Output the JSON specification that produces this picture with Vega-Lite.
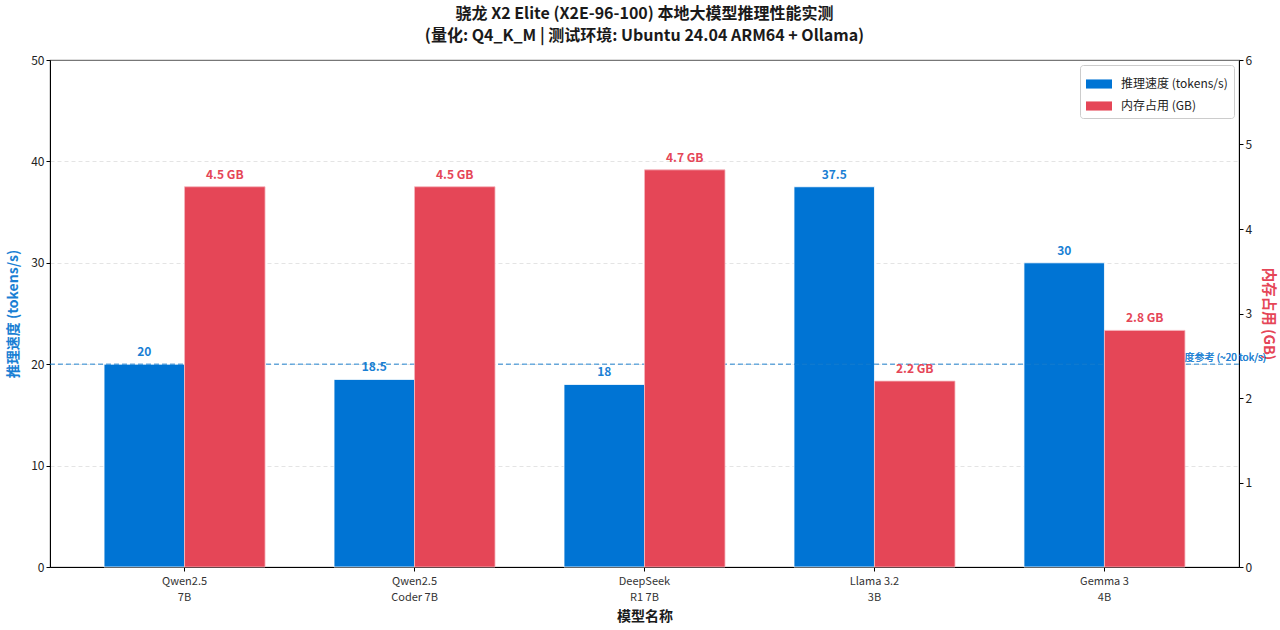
{
  "$schema": "https://vega.github.io/schema/vega-lite/v6.json",
  "width": 1189,
  "height": 507,
  "autosize": {"type": "none"},
  "padding": {"left": 50, "top": 60, "right": 41, "bottom": 63},
  "title": {
    "text": ["骁龙 X2 Elite (X2E-96-100) 本地大模型推理性能实测", "(量化: Q4_K_M | 测试环境: Ubuntu 24.04 ARM64 + Ollama)"],
    "fontSize": 16,
    "fontWeight": "bold",
    "color": "#1a1a1a",
    "lineHeight": 22,
    "anchor": "middle",
    "offset": 10
  },
  "config": {
    "font": "Noto Sans CJK SC",
    "view": {"stroke": "#777", "strokeWidth": 1.2},
    "axis": {"domainColor": "#000", "tickColor": "#000", "tickSize": 4, "labelFont": "Noto Sans CJK SC", "titleFont": "Noto Sans CJK SC"},
    "legend": {"labelFont": "Noto Sans CJK SC"}
  },
  "data": {
    "values": [
      {"model": "Qwen2.5\n7B", "speed": 20, "memory": 4.5},
      {"model": "Qwen2.5\nCoder 7B", "speed": 18.5, "memory": 4.5},
      {"model": "DeepSeek\nR1 7B", "speed": 18, "memory": 4.7},
      {"model": "Llama 3.2\n3B", "speed": 37.5, "memory": 2.2},
      {"model": "Gemma 3\n4B", "speed": 30, "memory": 2.8}
    ]
  },
  "encoding": {
    "x": {
      "field": "model",
      "type": "nominal",
      "sort": null,
      "scale": {"paddingInner": 0.3, "paddingOuter": 0.235},
      "axis": {
        "labelExpr": "split(datum.label, '\\n')",
        "labelAngle": 0,
        "labelFontSize": 11,
        "labelColor": "#333",
        "labelLineHeight": 16,
        "labelPadding": 4,
        "title": "模型名称",
        "titleFontSize": 14,
        "titleFontWeight": "bold",
        "titleColor": "#1a1a1a",
        "titlePadding": 7
      }
    }
  },
  "layer": [
    {
      "encoding": {
        "y": {
          "field": "speed",
          "type": "quantitative",
          "scale": {"domain": [0, 50], "nice": false},
          "axis": {
            "orient": "left",
            "values": [0, 10, 20, 30, 40, 50],
            "labelFontSize": 12,
            "labelColor": "#222",
            "grid": true,
            "gridColor": {"condition": {"test": "datum.value === 0 || datum.value === 50", "value": "transparent"}, "value": "#dddddd"},
            "gridDash": [4, 3],
            "gridWidth": 0.8,
            "title": "推理速度 (tokens/s)",
            "titleColor": "#1a7fd4",
            "titleFontSize": 14,
            "titleFontWeight": "bold",
            "titlePadding": 10
          }
        }
      },
      "layer": [
        {
          "mark": {"type": "bar", "stroke": "white", "strokeWidth": 0.8},
          "encoding": {
            "xOffset": {"datum": "推理速度 (tokens/s)", "scale": {"domain": ["推理速度 (tokens/s)", "内存占用 (GB)"], "paddingInner": 0, "paddingOuter": 0}},
            "color": {
              "datum": "推理速度 (tokens/s)",
              "scale": {"domain": ["推理速度 (tokens/s)", "内存占用 (GB)"], "range": ["#0074d4", "#e54657"]},
              "legend": {
                "title": null,
                "orient": "top-right",
                "offset": 5,
                "fillColor": "rgba(255,255,255,0.85)",
                "strokeColor": "#cccccc",
                "cornerRadius": 3,
                "padding": 6,
                "symbolType": "M-1,-0.35L1,-0.35L1,0.35L-1,0.35Z",
                "symbolSize": 676,
                "symbolStrokeWidth": 0,
                "symbolOpacity": 1,
                "labelFontSize": 12,
                "labelColor": "#222",
                "rowPadding": 3,
                "labelOffset": 9
              }
            }
          }
        },
        {
          "mark": {"type": "text", "baseline": "bottom", "dy": -5, "fontSize": 12, "fontWeight": "bold", "color": "#1a7fd4"},
          "encoding": {
            "xOffset": {"datum": "推理速度 (tokens/s)"},
            "text": {"field": "speed", "type": "quantitative"}
          }
        },
        {
          "mark": {"type": "rule", "color": "#1a7fd4", "opacity": 0.25, "strokeDash": [5, 3], "strokeWidth": 1},
          "encoding": {"y": {"datum": 20}, "x": null}
        },
        {
          "mark": {"type": "text", "align": "left", "baseline": "bottom", "dx": 50, "dy": -1, "fontSize": 10, "color": "#1a7fd4", "opacity": 0.5, "text": "推理速度参考 (~20 tok/s)"},
          "encoding": {"x": {"datum": "Gemma 3\n4B", "type": "nominal"}, "y": {"datum": 20}}
        }
      ]
    },
    {
      "encoding": {
        "y": {
          "field": "memory",
          "type": "quantitative",
          "scale": {"domain": [0, 6], "nice": false},
          "axis": {
            "orient": "right",
            "values": [0, 1, 2, 3, 4, 5, 6],
            "labelFontSize": 12,
            "labelColor": "#222",
            "grid": false,
            "title": "内存占用 (GB)",
            "titleColor": "#e54657",
            "titleFontSize": 14.5,
            "titleFontWeight": "bold",
            "titlePadding": 9
          }
        }
      },
      "layer": [
        {
          "mark": {"type": "bar", "stroke": "#f5b5bc", "strokeWidth": 0.8},
          "encoding": {
            "xOffset": {"datum": "内存占用 (GB)"},
            "color": {"datum": "内存占用 (GB)"}
          }
        },
        {
          "mark": {"type": "text", "baseline": "bottom", "dy": -5, "fontSize": 12, "fontWeight": "bold", "color": "#e54657", "text": {"expr": "format(datum.memory, '.1f') + ' GB'"}},
          "encoding": {
            "xOffset": {"datum": "内存占用 (GB)"}
          }
        }
      ]
    }
  ],
  "resolve": {"scale": {"y": "independent"}}
}
